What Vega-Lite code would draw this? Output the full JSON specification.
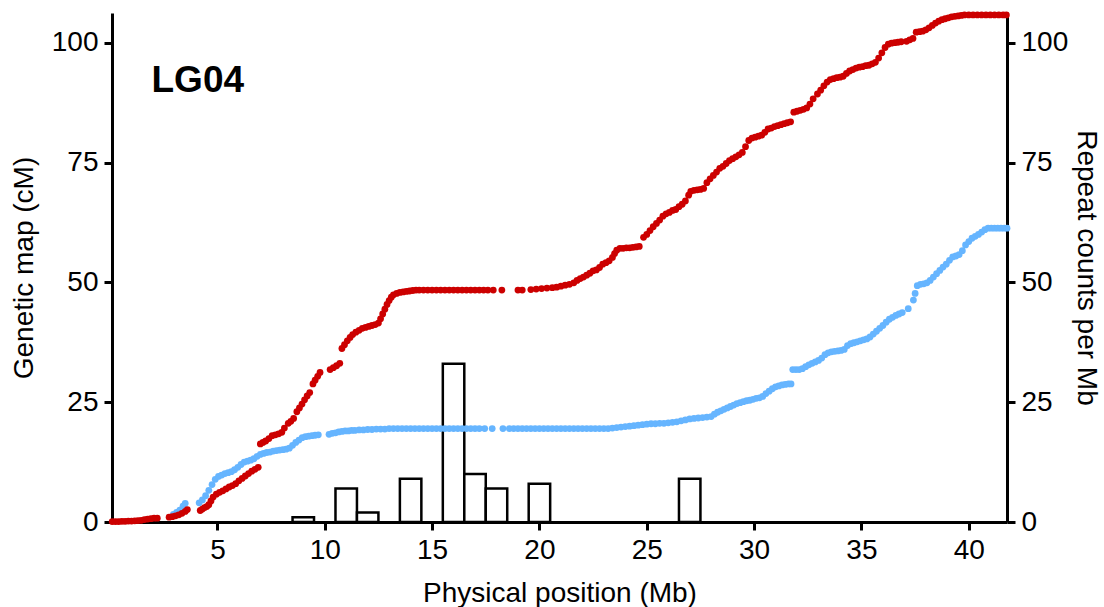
{
  "$schema": "https://vega.github.io/schema/vega-lite/v6.json",
  "autosize": "none",
  "width": 895,
  "height": 509,
  "padding": {"left": 112, "top": 13, "right": 97, "bottom": 85},
  "background": "white",
  "config": {
    "view": {"stroke": null},
    "axis": {
      "domainColor": "black", "domainWidth": 3, "tickColor": "black", "tickWidth": 3, "tickSize": 8,
      "labelFont": "Liberation Sans", "labelFontSize": 28, "labelColor": "black", "labelPadding": 6,
      "titleFont": "Liberation Sans", "titleFontSize": 28, "titleFontWeight": "normal", "titleColor": "black",
      "grid": false
    }
  },
  "datasets": {
    "bars": [
      {"start": 8.5, "end": 9.5, "count": 1},
      {"start": 10.5, "end": 11.5, "count": 7},
      {"start": 11.5, "end": 12.5, "count": 2},
      {"start": 13.5, "end": 14.5, "count": 9},
      {"start": 15.5, "end": 16.5, "count": 33},
      {"start": 16.5, "end": 17.5, "count": 10},
      {"start": 17.5, "end": 18.5, "count": 7},
      {"start": 19.5, "end": 20.5, "count": 8},
      {"start": 26.5, "end": 27.5, "count": 9}
    ],
    "blue": [
      {"pos":2.95,"cM":1.6},{"pos":3.1,"cM":2.0},{"pos":3.25,"cM":2.5},{"pos":3.4,"cM":3.3},{"pos":3.5,"cM":3.9},
      {"pos":4.15,"cM":4.0},{"pos":4.3,"cM":4.6},{"pos":4.45,"cM":5.5},{"pos":4.6,"cM":6.6},{"pos":4.75,"cM":7.8},{"pos":4.9,"cM":8.9},{"pos":5.05,"cM":9.5},{"pos":5.2,"cM":9.8},{"pos":5.35,"cM":10.1},{"pos":5.5,"cM":10.3},{"pos":5.65,"cM":10.5},{"pos":5.8,"cM":10.9},{"pos":5.95,"cM":11.4},{"pos":6.1,"cM":12.0},{"pos":6.25,"cM":12.5},{"pos":6.4,"cM":12.7},{"pos":6.55,"cM":12.9},{"pos":6.7,"cM":13.2},{"pos":6.85,"cM":13.7},{"pos":7.0,"cM":14.1},{"pos":7.15,"cM":14.3},{"pos":7.3,"cM":14.5},{"pos":7.45,"cM":14.6},{"pos":7.6,"cM":14.8},{"pos":7.75,"cM":14.9},{"pos":7.9,"cM":15.0},{"pos":8.05,"cM":15.1},{"pos":8.2,"cM":15.2},{"pos":8.35,"cM":15.4},{"pos":8.5,"cM":16.0},{"pos":8.65,"cM":16.6},{"pos":8.8,"cM":17.1},{"pos":8.95,"cM":17.6},{"pos":9.1,"cM":17.8},{"pos":9.25,"cM":17.9},{"pos":9.4,"cM":18.0},{"pos":9.55,"cM":18.1},{"pos":9.7,"cM":18.2},
      {"pos":10.2,"cM":18.3},{"pos":10.35,"cM":18.5},{"pos":10.5,"cM":18.6},{"pos":10.65,"cM":18.8},{"pos":10.8,"cM":18.9},{"pos":10.95,"cM":19.0},{"pos":11.1,"cM":19.0},{"pos":11.25,"cM":19.1},{"pos":11.4,"cM":19.1},{"pos":11.6,"cM":19.2},{"pos":11.8,"cM":19.2},{"pos":12.0,"cM":19.3},{"pos":12.2,"cM":19.3},{"pos":12.4,"cM":19.4},{"pos":12.6,"cM":19.4},{"pos":12.8,"cM":19.4},{"pos":13.0,"cM":19.5},{"pos":13.2,"cM":19.5},{"pos":13.4,"cM":19.5},{"pos":13.6,"cM":19.5},{"pos":13.8,"cM":19.5},{"pos":14.0,"cM":19.5},{"pos":14.2,"cM":19.5},{"pos":14.4,"cM":19.5},{"pos":14.6,"cM":19.5},{"pos":14.8,"cM":19.5},{"pos":15.0,"cM":19.5},{"pos":15.2,"cM":19.5},{"pos":15.4,"cM":19.5},{"pos":15.6,"cM":19.5},{"pos":15.8,"cM":19.5},{"pos":16.0,"cM":19.5},{"pos":16.2,"cM":19.5},{"pos":16.4,"cM":19.5},{"pos":16.6,"cM":19.5},{"pos":16.8,"cM":19.5},{"pos":17.0,"cM":19.5},{"pos":17.2,"cM":19.5},{"pos":17.45,"cM":19.5},{"pos":17.8,"cM":19.5},
      {"pos":18.3,"cM":19.5},{"pos":18.6,"cM":19.5},{"pos":18.8,"cM":19.5},{"pos":19.0,"cM":19.5},{"pos":19.2,"cM":19.5},{"pos":19.4,"cM":19.5},{"pos":19.6,"cM":19.5},{"pos":19.8,"cM":19.5},{"pos":20.0,"cM":19.5},{"pos":20.2,"cM":19.5},{"pos":20.4,"cM":19.5},{"pos":20.6,"cM":19.5},{"pos":20.8,"cM":19.5},{"pos":21.0,"cM":19.5},{"pos":21.2,"cM":19.5},{"pos":21.4,"cM":19.5},{"pos":21.6,"cM":19.5},{"pos":21.8,"cM":19.5},{"pos":22.0,"cM":19.5},{"pos":22.2,"cM":19.5},{"pos":22.4,"cM":19.5},{"pos":22.6,"cM":19.5},{"pos":22.8,"cM":19.5},{"pos":23.0,"cM":19.5},{"pos":23.2,"cM":19.5},{"pos":23.4,"cM":19.6},{"pos":23.6,"cM":19.7},{"pos":23.8,"cM":19.8},{"pos":24.0,"cM":19.9},{"pos":24.2,"cM":20.0},{"pos":24.4,"cM":20.1},{"pos":24.6,"cM":20.2},{"pos":24.8,"cM":20.3},{"pos":25.0,"cM":20.4},{"pos":25.2,"cM":20.5},{"pos":25.4,"cM":20.5},{"pos":25.6,"cM":20.6},{"pos":25.8,"cM":20.6},{"pos":26.0,"cM":20.7},{"pos":26.2,"cM":20.8},{"pos":26.4,"cM":20.9},{"pos":26.6,"cM":21.1},{"pos":26.8,"cM":21.3},{"pos":27.0,"cM":21.5},{"pos":27.2,"cM":21.6},{"pos":27.4,"cM":21.7},{"pos":27.6,"cM":21.8},{"pos":27.8,"cM":21.9},{"pos":28.0,"cM":22.0},{"pos":28.15,"cM":22.5},{"pos":28.3,"cM":22.9},{"pos":28.45,"cM":23.2},{"pos":28.6,"cM":23.5},{"pos":28.75,"cM":23.8},{"pos":28.9,"cM":24.1},{"pos":29.05,"cM":24.4},{"pos":29.2,"cM":24.7},{"pos":29.35,"cM":24.9},{"pos":29.5,"cM":25.1},{"pos":29.65,"cM":25.3},{"pos":29.8,"cM":25.4},{"pos":29.95,"cM":25.6},{"pos":30.1,"cM":25.8},{"pos":30.25,"cM":25.9},{"pos":30.4,"cM":26.2},{"pos":30.55,"cM":26.8},{"pos":30.7,"cM":27.3},{"pos":30.85,"cM":27.8},{"pos":31.0,"cM":28.2},{"pos":31.15,"cM":28.4},{"pos":31.3,"cM":28.6},{"pos":31.45,"cM":28.7},{"pos":31.6,"cM":28.8},{"pos":31.72,"cM":28.8},
      {"pos":31.8,"cM":31.8},{"pos":31.95,"cM":31.8},{"pos":32.1,"cM":31.8},{"pos":32.25,"cM":32.0},{"pos":32.4,"cM":32.4},{"pos":32.55,"cM":32.8},{"pos":32.7,"cM":33.1},{"pos":32.85,"cM":33.4},{"pos":33.0,"cM":33.7},{"pos":33.15,"cM":34.2},{"pos":33.3,"cM":34.9},{"pos":33.45,"cM":35.3},{"pos":33.6,"cM":35.5},{"pos":33.75,"cM":35.6},{"pos":33.9,"cM":35.7},{"pos":34.05,"cM":35.8},{"pos":34.2,"cM":36.0},{"pos":34.35,"cM":36.8},{"pos":34.5,"cM":37.2},{"pos":34.65,"cM":37.4},{"pos":34.8,"cM":37.6},{"pos":34.95,"cM":37.8},{"pos":35.1,"cM":38.0},{"pos":35.25,"cM":38.2},{"pos":35.4,"cM":38.6},{"pos":35.55,"cM":39.2},{"pos":35.7,"cM":39.8},{"pos":35.85,"cM":40.4},{"pos":36.0,"cM":41.0},{"pos":36.15,"cM":41.7},{"pos":36.3,"cM":42.3},{"pos":36.45,"cM":42.7},{"pos":36.6,"cM":43.1},{"pos":36.75,"cM":43.4},{"pos":36.9,"cM":43.7},
      {"pos":37.18,"cM":44.5},{"pos":37.42,"cM":46.3},{"pos":37.5,"cM":47.7},{"pos":37.6,"cM":49.3},{"pos":37.75,"cM":49.6},{"pos":37.9,"cM":49.7},{"pos":38.05,"cM":49.9},{"pos":38.2,"cM":50.4},{"pos":38.35,"cM":51.1},{"pos":38.5,"cM":51.8},{"pos":38.65,"cM":52.5},{"pos":38.8,"cM":53.2},{"pos":38.95,"cM":53.8},{"pos":39.1,"cM":54.6},{"pos":39.25,"cM":55.3},{"pos":39.4,"cM":55.5},{"pos":39.55,"cM":55.8},{"pos":39.7,"cM":56.6},
      {"pos":39.85,"cM":57.8},{"pos":40.0,"cM":58.5},{"pos":40.15,"cM":59.2},{"pos":40.3,"cM":59.6},{"pos":40.45,"cM":60.0},{"pos":40.6,"cM":60.5},{"pos":40.75,"cM":61.0},{"pos":40.9,"cM":61.3},{"pos":41.05,"cM":61.3},{"pos":41.2,"cM":61.3},{"pos":41.35,"cM":61.3},{"pos":41.5,"cM":61.3},{"pos":41.65,"cM":61.3},{"pos":41.78,"cM":61.3}
    ],
    "red": [
      {"pos":0.1,"cM":0.1},{"pos":0.25,"cM":0.1},{"pos":0.4,"cM":0.1},{"pos":0.55,"cM":0.15},{"pos":0.7,"cM":0.15},{"pos":0.85,"cM":0.2},{"pos":1.0,"cM":0.2},{"pos":1.15,"cM":0.25},{"pos":1.3,"cM":0.3},{"pos":1.45,"cM":0.35},{"pos":1.6,"cM":0.5},{"pos":1.75,"cM":0.6},{"pos":1.9,"cM":0.7},{"pos":2.05,"cM":0.8},{"pos":2.2,"cM":0.8},
      {"pos":2.75,"cM":1.0},{"pos":2.9,"cM":1.1},{"pos":3.05,"cM":1.3},{"pos":3.2,"cM":1.5},{"pos":3.35,"cM":1.8},{"pos":3.5,"cM":2.2},{"pos":3.6,"cM":2.6},
      {"pos":4.2,"cM":2.4},{"pos":4.3,"cM":2.7},{"pos":4.4,"cM":3.0},{"pos":4.5,"cM":3.2},{"pos":4.6,"cM":3.6},{"pos":4.7,"cM":4.4},{"pos":4.8,"cM":5.2},{"pos":4.95,"cM":5.8},{"pos":5.1,"cM":6.2},{"pos":5.25,"cM":6.5},{"pos":5.4,"cM":6.9},{"pos":5.55,"cM":7.3},{"pos":5.7,"cM":7.6},{"pos":5.85,"cM":8.0},{"pos":6.0,"cM":8.6},{"pos":6.15,"cM":9.1},{"pos":6.3,"cM":9.6},{"pos":6.45,"cM":10.1},{"pos":6.6,"cM":10.6},{"pos":6.75,"cM":11.0},{"pos":6.9,"cM":11.4},
      {"pos":7.0,"cM":16.3},{"pos":7.12,"cM":16.6},{"pos":7.25,"cM":16.9},{"pos":7.4,"cM":17.4},{"pos":7.55,"cM":18.0},{"pos":7.7,"cM":18.2},{"pos":7.85,"cM":18.4},{"pos":8.0,"cM":18.7},{"pos":8.12,"cM":19.6},
      {"pos":8.3,"cM":20.6},{"pos":8.42,"cM":21.0},{"pos":8.55,"cM":21.6},
      {"pos":8.7,"cM":23.0},{"pos":8.82,"cM":23.8},{"pos":8.94,"cM":24.6},{"pos":9.06,"cM":25.5},{"pos":9.18,"cM":26.3},{"pos":9.3,"cM":27.0},
      {"pos":9.45,"cM":28.8},{"pos":9.55,"cM":29.6},{"pos":9.67,"cM":30.4},{"pos":9.78,"cM":31.2},
      {"pos":10.25,"cM":31.8},{"pos":10.4,"cM":32.2},{"pos":10.55,"cM":32.6},{"pos":10.7,"cM":33.1},
      {"pos":10.8,"cM":36.2},{"pos":10.92,"cM":37.0},{"pos":11.05,"cM":37.8},{"pos":11.18,"cM":38.5},{"pos":11.3,"cM":39.1},{"pos":11.45,"cM":39.6},{"pos":11.6,"cM":40.0},{"pos":11.75,"cM":40.4},{"pos":11.9,"cM":40.6},{"pos":12.05,"cM":40.8},{"pos":12.2,"cM":41.0},{"pos":12.35,"cM":41.2},{"pos":12.5,"cM":41.5},{"pos":12.6,"cM":42.4},{"pos":12.7,"cM":43.4},{"pos":12.8,"cM":44.4},{"pos":12.9,"cM":45.4},{"pos":13.0,"cM":46.2},{"pos":13.1,"cM":46.9},{"pos":13.2,"cM":47.4},{"pos":13.35,"cM":47.7},{"pos":13.5,"cM":47.9},{"pos":13.65,"cM":48.0},{"pos":13.8,"cM":48.1},{"pos":13.95,"cM":48.2},{"pos":14.1,"cM":48.3},{"pos":14.25,"cM":48.4},{"pos":14.4,"cM":48.4},{"pos":14.6,"cM":48.4},{"pos":14.8,"cM":48.4},{"pos":15.0,"cM":48.4},{"pos":15.2,"cM":48.4},{"pos":15.4,"cM":48.4},{"pos":15.6,"cM":48.4},{"pos":15.8,"cM":48.4},{"pos":16.0,"cM":48.4},{"pos":16.2,"cM":48.4},{"pos":16.4,"cM":48.4},{"pos":16.6,"cM":48.4},{"pos":16.8,"cM":48.4},{"pos":17.0,"cM":48.4},{"pos":17.2,"cM":48.4},{"pos":17.4,"cM":48.4},{"pos":17.6,"cM":48.4},{"pos":17.85,"cM":48.4},{"pos":18.25,"cM":48.4},
      {"pos":19.0,"cM":48.4},{"pos":19.2,"cM":48.4},{"pos":19.6,"cM":48.5},{"pos":19.85,"cM":48.6},{"pos":20.1,"cM":48.7},{"pos":20.35,"cM":48.8},{"pos":20.6,"cM":48.9},{"pos":20.8,"cM":49.0},{"pos":21.0,"cM":49.2},{"pos":21.2,"cM":49.4},{"pos":21.4,"cM":49.6},{"pos":21.6,"cM":49.9},{"pos":21.75,"cM":50.4},{"pos":21.9,"cM":50.8},{"pos":22.05,"cM":51.1},{"pos":22.2,"cM":51.5},{"pos":22.35,"cM":51.9},{"pos":22.5,"cM":52.4},{"pos":22.65,"cM":52.6},{"pos":22.8,"cM":53.1},{"pos":22.95,"cM":53.8},{"pos":23.1,"cM":54.1},{"pos":23.25,"cM":54.5},{"pos":23.4,"cM":55.2},{"pos":23.5,"cM":56.0},{"pos":23.6,"cM":56.7},{"pos":23.75,"cM":57.1},{"pos":23.9,"cM":57.1},{"pos":24.05,"cM":57.2},{"pos":24.2,"cM":57.2},{"pos":24.35,"cM":57.3},{"pos":24.5,"cM":57.4},{"pos":24.65,"cM":57.5},
      {"pos":24.85,"cM":59.4},{"pos":25.0,"cM":60.0},{"pos":25.15,"cM":60.8},{"pos":25.3,"cM":61.6},{"pos":25.45,"cM":62.3},{"pos":25.6,"cM":63.0},{"pos":25.75,"cM":63.8},{"pos":25.9,"cM":64.3},{"pos":26.05,"cM":64.6},{"pos":26.2,"cM":65.0},{"pos":26.35,"cM":65.2},{"pos":26.5,"cM":65.8},{"pos":26.65,"cM":66.3},{"pos":26.8,"cM":67.0},{"pos":26.95,"cM":68.2},{"pos":27.05,"cM":69.0},{"pos":27.2,"cM":69.2},{"pos":27.35,"cM":69.3},{"pos":27.5,"cM":69.4},{"pos":27.65,"cM":69.6},{"pos":27.8,"cM":70.8},{"pos":27.95,"cM":71.6},{"pos":28.1,"cM":72.3},{"pos":28.25,"cM":73.0},{"pos":28.4,"cM":73.8},{"pos":28.55,"cM":74.2},{"pos":28.7,"cM":74.8},{"pos":28.85,"cM":75.4},{"pos":29.0,"cM":75.8},{"pos":29.15,"cM":76.2},{"pos":29.3,"cM":76.6},{"pos":29.45,"cM":77.1},{"pos":29.6,"cM":78.3},{"pos":29.75,"cM":79.6},{"pos":29.9,"cM":80.1},{"pos":30.05,"cM":80.3},{"pos":30.2,"cM":80.5},{"pos":30.35,"cM":80.7},{"pos":30.5,"cM":81.3},{"pos":30.65,"cM":82.0},{"pos":30.8,"cM":82.2},{"pos":30.95,"cM":82.5},{"pos":31.1,"cM":82.7},{"pos":31.25,"cM":82.9},{"pos":31.4,"cM":83.1},{"pos":31.55,"cM":83.3},{"pos":31.7,"cM":83.5},
      {"pos":31.85,"cM":85.5},{"pos":32.0,"cM":85.7},{"pos":32.15,"cM":85.9},{"pos":32.3,"cM":86.1},{"pos":32.45,"cM":86.4},{"pos":32.6,"cM":87.2},{"pos":32.75,"cM":88.3},
      {"pos":32.95,"cM":89.3},{"pos":33.1,"cM":90.1},{"pos":33.25,"cM":91.0},{"pos":33.4,"cM":91.8},{"pos":33.55,"cM":92.3},{"pos":33.7,"cM":92.5},{"pos":33.85,"cM":92.7},{"pos":34.0,"cM":92.8},{"pos":34.15,"cM":93.0},{"pos":34.3,"cM":93.6},{"pos":34.45,"cM":94.1},{"pos":34.6,"cM":94.4},{"pos":34.75,"cM":94.7},{"pos":34.9,"cM":94.9},{"pos":35.05,"cM":95.0},{"pos":35.2,"cM":95.2},{"pos":35.35,"cM":95.3},{"pos":35.5,"cM":95.6},{"pos":35.65,"cM":95.9},{"pos":35.8,"cM":96.8},{"pos":35.95,"cM":97.9},{"pos":36.1,"cM":99.0},{"pos":36.25,"cM":99.7},{"pos":36.4,"cM":99.9},{"pos":36.55,"cM":100.0},{"pos":36.7,"cM":100.1},{"pos":36.85,"cM":100.2},
      {"pos":37.1,"cM":100.3},{"pos":37.25,"cM":100.6},{"pos":37.4,"cM":100.9},
      {"pos":37.55,"cM":102.2},{"pos":37.7,"cM":102.3},{"pos":37.85,"cM":102.4},{"pos":38.0,"cM":102.7},{"pos":38.15,"cM":103.1},{"pos":38.3,"cM":103.6},{"pos":38.45,"cM":104.1},{"pos":38.6,"cM":104.5},{"pos":38.75,"cM":104.8},{"pos":38.9,"cM":105.0},{"pos":39.05,"cM":105.2},{"pos":39.2,"cM":105.4},{"pos":39.35,"cM":105.5},{"pos":39.5,"cM":105.6},{"pos":39.65,"cM":105.7},{"pos":39.8,"cM":105.8},{"pos":40.0,"cM":105.8},{"pos":40.2,"cM":105.8},{"pos":40.4,"cM":105.8},{"pos":40.6,"cM":105.8},{"pos":40.8,"cM":105.8},{"pos":41.0,"cM":105.8},{"pos":41.2,"cM":105.8},{"pos":41.4,"cM":105.8},{"pos":41.6,"cM":105.8},{"pos":41.75,"cM":105.8}
    ],
    "label": [{"text": "LG04", "pos": 1.93, "cM": 89.7}]
  },
  "resolve": {"scale": {"y": "independent"}},
  "layer": [
    {
      "data": {"name": "bars"},
      "mark": {"type": "bar", "fill": "white", "stroke": "black", "strokeWidth": 2.5},
      "encoding": {
        "x": {"field": "start", "type": "quantitative", "scale": {"domain": [0.09, 41.78], "nice": false, "zero": false},
              "axis": {"values": [5, 10, 15, 20, 25, 30, 35, 40], "title": "Physical position (Mb)", "orient": "bottom", "titlePadding": 15}},
        "x2": {"field": "end"},
        "y": {"field": "count", "type": "quantitative", "scale": {"domain": [0, 106.2], "nice": false, "padding": 0},
              "axis": {"orient": "right", "values": [0, 25, 50, 75, 100], "title": "Repeat counts per Mb", "titlePadding": 4}},
        "y2": {"datum": 0}
      }
    },
    {
      "data": {"name": "blue"},
      "mark": {"type": "point", "filled": true, "shape": "circle", "size": 46, "color": "#66B5FF", "opacity": 1},
      "encoding": {
        "x": {"field": "pos", "type": "quantitative"},
        "y": {"field": "cM", "type": "quantitative", "scale": {"domain": [0, 106.2], "nice": false},
              "axis": {"orient": "left", "values": [0, 25, 50, 75, 100], "title": "Genetic map (cM)", "titlePadding": 13}}
      }
    },
    {
      "data": {"name": "red"},
      "mark": {"type": "point", "filled": true, "shape": "circle", "size": 46, "color": "#CC0000", "opacity": 1},
      "encoding": {
        "x": {"field": "pos", "type": "quantitative"},
        "y": {"field": "cM", "type": "quantitative", "scale": {"domain": [0, 106.2], "nice": false}, "axis": null}
      }
    },
    {
      "data": {"name": "label"},
      "mark": {"type": "text", "align": "left", "baseline": "alphabetic", "font": "Liberation Sans", "fontSize": 37, "fontWeight": "bold", "color": "black"},
      "encoding": {
        "x": {"field": "pos", "type": "quantitative"},
        "y": {"field": "cM", "type": "quantitative", "scale": {"domain": [0, 106.2], "nice": false}, "axis": null},
        "text": {"field": "text"}
      }
    }
  ]
}
